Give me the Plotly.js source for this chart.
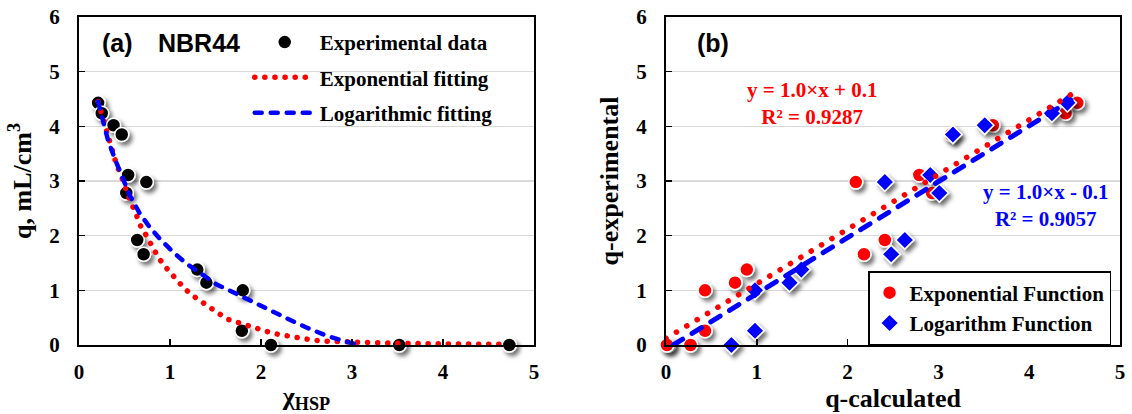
<!DOCTYPE html>
<html><head><meta charset="utf-8">
<script src="https://cdn.plot.ly/plotly-3.0.1.min.js"></script>
<style>
html,body{margin:0;padding:0;background:#fff}
#chart{width:1132px;height:414px}
.scatterlayer path.js-line, .legend path.js-line{stroke-linecap:round}
</style></head><body>
<div id="chart"></div>
<script>
// ---- Panel (a): experimental data ----
const chiHSP = [0.21,0.25,0.38,0.47,0.54,0.74,0.52,0.64,0.71,1.30,1.40,1.80,1.79,2.11,3.52,4.73];
const qExp   = [4.43,4.24,4.02,3.85,3.11,2.98,2.78,1.92,1.66,1.38,1.14,1.00,0.26,0,0,0];

// exponential fitting curve
const expFitX = [0.21,0.36,0.41,0.47,0.56,0.62,0.67,0.74,0.81,0.88,0.97,1.06,1.16,1.27,1.38,1.49,1.62,1.75,1.88,2.01,2.14,2.28,2.42,2.57,2.71,2.85,3.0,3.5,4.0,4.72];
const expFitY = [4.45,3.56,3.31,3.07,2.64,2.43,2.20,2.00,1.79,1.58,1.39,1.22,1.03,0.88,0.75,0.61,0.48,0.41,0.34,0.27,0.21,0.17,0.12,0.09,0.07,0.06,0.05,0.03,0.02,0.01];

// logarithmic fitting curve
const logFitX = [0.21,0.27,0.32,0.40,0.47,0.56,0.67,0.78,0.89,1.04,1.18,1.33,1.51,1.70,1.88,2.06,2.28,2.50,2.72,2.94,3.07];
const logFitY = [4.45,4.05,3.74,3.38,3.07,2.73,2.40,2.15,1.94,1.69,1.49,1.31,1.11,0.96,0.81,0.66,0.49,0.32,0.17,0.06,0.0];

// ---- Panel (b): calculated vs experimental ----
const qCalcExp = [4.53,4.40,3.60,3.14,2.79,2.09,2.93,2.41,2.18,0.89,0.76,0.43,0.43,0.27,0.03,0.01];
const qCalcLog = [4.42,4.25,3.51,3.16,2.91,2.41,3.01,2.63,2.48,1.49,1.36,0.98,0.98,0.72];
const qExpLog  = qExp.slice(0, qCalcLog.length);

const trendExpX = [0, 4.5],  trendExpY = [0.12, 4.62];
const trendLogX = [0.08, 4.46], trendLogY = [0.0, 4.48];

const xTicks = [0,1,2,3,4,5];
const yTicks = [0,1,2,3,4,5,6];

const RED = '#ff0000', BLUE = '#0000ff';
function f(size, color, family){
  return {family: family || 'Liberation Serif, Times New Roman, serif', size: size, color: color || '#000', weight: 'bold'};
}
const SANS = 'Liberation Sans, Arial, sans-serif';

const traces = [
  {x: chiHSP, y: qExp, type:'scatter', mode:'markers', name:'Experimental data',
   marker:{color:'#000', size:14, line:{color:'#fff', width:1.5}},
   xaxis:'x', yaxis:'y', legend:'legend', legendgroup:'a', cliponaxis:false},
  {x: expFitX, y: expFitY, type:'scatter', mode:'lines', name:'Exponential fitting',
   line:{color:RED, width:5.5, dash:'0.1px,10px'}, xaxis:'x', yaxis:'y', legend:'legend', legendgroup:'b', cliponaxis:false},
  {x: logFitX, y: logFitY, type:'scatter', mode:'lines', name:'Logarithmic fitting',
   line:{color:BLUE, width:4.5, dash:'7px,9px'}, xaxis:'x', yaxis:'y', legend:'legend', legendgroup:'c', cliponaxis:false},

  {x: qCalcExp, y: qExp, type:'scatter', mode:'markers', name:'Exponential Function',
   marker:{color:RED, size:14, line:{color:'#fff', width:1.5}},
   xaxis:'x2', yaxis:'y2', legend:'legend2', cliponaxis:false},
  {x: qCalcLog, y: qExpLog, type:'scatter', mode:'markers', name:'Logarithm Function',
   marker:{color:BLUE, size:14, symbol:'diamond', line:{color:'#fff', width:1.5}},
   xaxis:'x2', yaxis:'y2', legend:'legend2', cliponaxis:false},
  {x: trendExpX, y: trendExpY, type:'scatter', mode:'lines', showlegend:false,
   line:{color:RED, width:5.5, dash:'0.1px,12px'}, xaxis:'x2', yaxis:'y2', cliponaxis:false},
  {x: trendLogX, y: trendLogY, type:'scatter', mode:'lines', showlegend:false,
   line:{color:BLUE, width:5, dash:'11px,11px'}, xaxis:'x2', yaxis:'y2', cliponaxis:false}
];

function xax(domain, title){
  return {domain: domain, range:[0,5], tickvals: xTicks, ticks:'inside', ticklen:6, tickwidth:1.5, tickcolor:'#000',
    showline:true, linewidth:2, linecolor:'#000', mirror:true, showgrid:false, zeroline:false,
    tickfont:f(21), ticklabelstandoff:7, title:{text:title, font:f(26), standoff:5}, fixedrange:true};
}
function yax(anchor, title){
  return {domain:[0,1], range:[0,6], tickvals: yTicks, ticks:'inside', ticklen:6, tickwidth:1.5, tickcolor:'#000',
    showline:true, linewidth:2, linecolor:'#000', mirror:true, showgrid:true, gridcolor:'#d9d9d9', gridwidth:1.5,
    zeroline:false, tickfont:f(21), ticklabelstandoff:13, anchor:anchor,
    title:{text:title, font:f(26), standoff:10}, fixedrange:true};
}

const layout = {
  width:1132, height:414, margin:{l:79, r:12, t:17, b:69},
  paper_bgcolor:'#fff', plot_bgcolor:'#fff',
  xaxis: xax([0, 0.437], 'χ<sub>HSP</sub>'),
  yaxis: yax('x', 'q, mL/cm<sup>3</sup>'),
  xaxis2: Object.assign(xax([0.5639, 1.0], 'q-calculated'), {anchor:'y2'}),
  yaxis2: yax('x2', 'q-experimental'),
  legend: {x:0.164, y:0.985, xanchor:'left', yanchor:'top', bgcolor:'rgba(0,0,0,0)', borderwidth:0,
    font:f(21), tracegroupgap:5, itemwidth:60, traceorder:'grouped'},
  legend2: {x:0.758, y:0.2256, xanchor:'left', yanchor:'top', bgcolor:'#fff', bordercolor:'#000', borderwidth:1.5,
    font:f(21), itemwidth:30, traceorder:'normal'},
  annotations: [
    {xref:'paper', yref:'paper', x:0.0202, y:0.9207, xanchor:'left', yanchor:'middle', showarrow:false,
     text:'(a)', font:f(25, '#000', SANS)},
    {xref:'paper', yref:'paper', x:0.0740, y:0.9207, xanchor:'left', yanchor:'middle', showarrow:false,
     text:'NBR44', font:f(25, '#000', SANS)},
    {xref:'paper', yref:'paper', x:0.5917, y:0.9207, xanchor:'left', yanchor:'middle', showarrow:false,
     text:'(b)', font:f(25, '#000', SANS)},
    {xref:'paper', yref:'paper', x:0.7041, y:0.7348, xanchor:'center', yanchor:'middle', showarrow:false,
     text:'y = 1.0×x + 0.1<br>R² = 0.9287', font:f(21, RED), align:'center'},
    {xref:'paper', yref:'paper', x:0.928, y:0.4268, xanchor:'center', yanchor:'middle', showarrow:false,
     text:'y = 1.0×x - 0.1<br>R² = 0.9057', font:f(21, BLUE), align:'center'}
  ]
};

Plotly.newPlot('chart', traces, layout, {displayModeBar:false, staticPlot:true}).then(function(gd){
  // soft drop shadow under the data markers (as in the reference)
  var NS = 'http://www.w3.org/2000/svg';
  var svg = gd.querySelector('svg.main-svg');
  var defs = svg.querySelector('defs') || svg.insertBefore(document.createElementNS(NS, 'defs'), svg.firstChild);
  var flt = document.createElementNS(NS, 'filter');
  flt.setAttribute('id', 'mshadow');
  flt.setAttribute('x', '-60%'); flt.setAttribute('y', '-60%');
  flt.setAttribute('width', '240%'); flt.setAttribute('height', '240%');
  var ds = document.createElementNS(NS, 'feDropShadow');
  ds.setAttribute('dx', '3'); ds.setAttribute('dy', '3.5');
  ds.setAttribute('stdDeviation', '2');
  ds.setAttribute('flood-color', '#000'); ds.setAttribute('flood-opacity', '0.55');
  flt.appendChild(ds);
  defs.appendChild(flt);
  gd.querySelectorAll('.scatterlayer .points path.point').forEach(function(p){
    p.setAttribute('filter', 'url(#mshadow)');
  });
});
</script></body></html>
